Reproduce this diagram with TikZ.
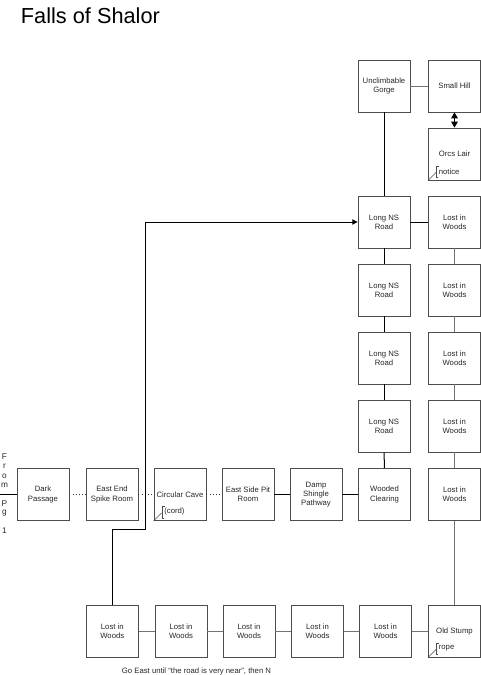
\documentclass[tikz,border=0pt]{standalone}
\usepackage{fontspec}
\setmainfont{Liberation Sans}
\usetikzlibrary{arrows.meta,calc}
\tikzset{
  room/.style={draw=black!70, line width=0.6pt, minimum width=39pt, minimum height=39pt, inner sep=0pt, align=center, font=\fontsize{5.8}{6.8}\selectfont, text=black!85},
  blk/.style={draw=black, line width=0.75pt},
  thin/.style={draw=black!55, line width=0.5pt},
  dots/.style={draw=black!80, line width=0.7pt, dash pattern=on 0.8pt off 1.6pt},
  lbl/.style={font=\fontsize{5.8}{6.8}\selectfont, text=black!85, inner sep=0pt},
  annot/.style={draw=black!70, line width=0.5pt}
}
\newcommand{\annotate}[2]{%
  \draw[annot] (#1.south west) -- ($(#1.south west)+(8,-8)$);
  \draw[annot] ($(#1.south west)+(11,-14.5)$) -- ($(#1.south west)+(8.5,-14.5)$) -- ($(#1.south west)+(8.5,-3)$) -- ($(#1.south west)+(10,-3)$);
  \node[lbl, anchor=west] at ($(#1.south west)+(10.5,-9)$) {#2};
}
\begin{document}
\begin{tikzpicture}[x=0.75pt, y=-0.75pt]
\useasboundingbox (0,0) rectangle (480,675);
% title
\node[anchor=base west, inner sep=0pt, font=\fontsize{16.3}{18}\selectfont] (title) at (20.7,23.3) {Falls of Shalor};
% top
\node[room] (gorge) at (384,86) {Unclimbable\\Gorge};
\node[room] (hill) at (454.5,86) {Small Hill};
\node[room] (orcs) at (454.5,154) {Orcs Lair};
% columns
\node[room] (ns1) at (384,222) {Long NS\\Road};
\node[room] (ns2) at (384,290) {Long NS\\Road};
\node[room] (ns3) at (384,358) {Long NS\\Road};
\node[room] (ns4) at (384,426) {Long NS\\Road};
\node[room] (lw1) at (454.5,222) {Lost in\\Woods};
\node[room] (lw2) at (454.5,290) {Lost in\\Woods};
\node[room] (lw3) at (454.5,358) {Lost in\\Woods};
\node[room] (lw4) at (454.5,426) {Lost in\\Woods};
% middle row
\node[room] (dark) at (43,494.5) {Dark\\Passage};
\node[room] (spike) at (112,494.5) {East End\\Spike Room};
\node[room] (cave) at (180,494.5) {Circular Cave};
\node[room] (pit) at (248,494.5) {East Side Pit\\Room};
\node[room] (damp) at (316,494.5) {Damp\\Shingle\\Pathway};
\node[room] (clear) at (384.5,494.5) {Wooded\\Clearing};
\node[room] (lw5) at (454.5,494.5) {Lost in\\Woods};
% bottom row
\node[room] (b1) at (112.3,631) {Lost in\\Woods};
\node[room] (b2) at (181,631) {Lost in\\Woods};
\node[room] (b3) at (249,631) {Lost in\\Woods};
\node[room] (b4) at (317.5,631) {Lost in\\Woods};
\node[room] (b5) at (385.5,631) {Lost in\\Woods};
\node[room] (stump) at (454.5,631) {Old Stump};
% annotations
\annotate{cave}{(cord)}
\annotate{orcs}{notice}
\annotate{stump}{rope}
% connectors
\draw[blk] (gorge) -- (ns1);
\draw[thin] (gorge) -- (hill);
\draw[line width=0.75pt, {Triangle[width=5pt,length=4.5pt]}-{Triangle[width=5pt,length=4.5pt]}] (hill) -- (orcs);
\draw[blk] (ns1) -- (lw1);
\draw[blk] (ns1) -- (ns2);
\draw[blk] (ns2) -- (ns3);
\draw[blk] (ns3) -- (ns4);
\draw[blk] (ns4) -- (clear);
\draw[thin] (lw1) -- (lw2);
\draw[thin] (lw2) -- (lw3);
\draw[thin] (lw3) -- (lw4);
\draw[thin] (lw4) -- (lw5);
\draw[thin] (lw5) -- (stump);
\draw[dots] (dark) -- (spike);
\draw[dots] (spike) -- (cave);
\draw[dots] (cave) -- (pit);
\draw[blk] (pit) -- (damp);
\draw[blk] (damp) -- (clear);
\draw[thin] (b1) -- (b2);
\draw[thin] (b2) -- (b3);
\draw[thin] (b3) -- (b4);
\draw[thin] (b4) -- (b5);
\draw[thin] (b5) -- (stump);
\coordinate (c1) at (112.3,529);
\coordinate (c2) at (145.7,529);
\coordinate (c3) at (145.7,222);
\draw[blk, -{Triangle[width=4pt,length=4pt]}] (b1.north) -- (c1) -- (c2) -- (c3) -- (ns1.west);
% from pg 1
\coordinate (from) at (0,494.5);
\draw[blk] (from) -- (dark.west);
\foreach \t/\yy [count=\i] in {F/457, r/466.5, o/476, m/485, P/503.5, g/513, 1/531}{
  \node[lbl, font=\fontsize{6.2}{7}\selectfont] (fp\i) at (4.5,\yy) {\t};
}
% bottom note
\node[lbl] (note) at (196.5,671) {Go East until ``the road is very near'', then N};
\end{tikzpicture}
\end{document}
